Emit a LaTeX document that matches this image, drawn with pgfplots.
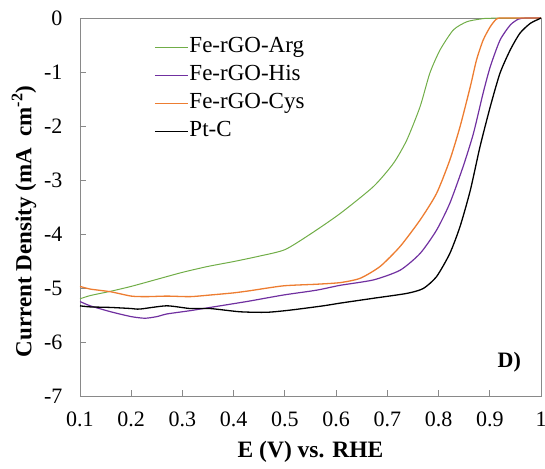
\documentclass[border=0pt]{standalone}
\usepackage{fontspec}
\setmainfont{Liberation Serif}
\usepackage{pgfplots}
\pgfplotsset{compat=1.18}
\definecolor{cgreen}{HTML}{70AD47}
\definecolor{cpurple}{HTML}{7030A0}
\definecolor{corange}{HTML}{ED7D31}
\definecolor{axgray}{HTML}{898989}
\begin{document}
\begin{tikzpicture}
\useasboundingbox (-80pt,-72pt) rectangle (465pt,396pt);
\begin{axis}[
  at={(0pt,0pt)}, anchor=south west,
  scale only axis, width=461pt, height=378pt,
  xmin=0.1, xmax=1, ymin=-7, ymax=0,
  xtick={0.1,0.2,0.3,0.4,0.5,0.6,0.7,0.8,0.9,1},
  xticklabels={0.1,0.2,0.3,0.4,0.5,0.6,0.7,0.8,0.9,1},
  ytick={-7,-6,-5,-4,-3,-2,-1,0},
  yticklabels={-7,-6,-5,-4,-3,-2,-1,0},
  /pgf/number format/assume math mode=true,
  tick align=inside, major tick length=6pt,
  xtick pos=bottom, ytick pos=left,
  axis line style={color=axgray, line width=0.9pt},
  every tick/.style={color=axgray, line width=0.9pt},
  ticklabel style={font=\fontsize{22}{26}\selectfont, text=black},
  xticklabel style={yshift=-12pt},
  yticklabel style={xshift=-14pt},
  xlabel={E (V) vs. RHE},
  ylabel={Current Density (mA\ \ cm\textsuperscript{-2})},
  xlabel style={font=\bfseries\fontsize{23.5}{27}\selectfont, at={(axis description cs:0.5,-0.164)}, anchor=base},
  ylabel style={font=\bfseries\fontsize{23}{27}\selectfont, at={(axis description cs:-0.1215,0.462)}, anchor=center},
  legend style={draw=none, fill=none, at={(rel axis cs:0.1605,0.952)}, anchor=north west,
    inner sep=0pt, row sep=6pt, font=\fontsize{23}{27}\selectfont,
    nodes={inner sep=1pt, text height=15pt, text depth=5pt}},
  legend cell align=left,
  legend image code/.code={\draw[#1, line width=1.3pt] (0pt,0pt) -- (33pt,0pt);},
]
\addplot[cgreen, line width=1.0pt, smooth, tension=0.4] coordinates {
(0.10,-5.20) (0.12,-5.14) (0.16,-5.06) (0.20,-4.97) (0.25,-4.84) (0.30,-4.71)
(0.35,-4.60) (0.40,-4.51) (0.45,-4.41) (0.50,-4.29) (0.55,-4.00) (0.608,-3.62)
(0.673,-3.12) (0.712,-2.69) (0.738,-2.26) (0.764,-1.64) (0.783,-1.02)
(0.803,-0.59) (0.829,-0.22) (0.855,-0.07) (0.881,-0.02) (0.90,-0.005) (1.00,0)
};
\addlegendentry{Fe-rGO-Arg}
\addplot[cpurple, line width=1.2pt, smooth, tension=0.4] coordinates {
(0.10,-5.25) (0.12,-5.33) (0.16,-5.44) (0.20,-5.53) (0.227,-5.56) (0.25,-5.53)
(0.27,-5.48) (0.315,-5.42) (0.354,-5.36) (0.40,-5.29) (0.432,-5.24) (0.497,-5.13)
(0.562,-5.04) (0.608,-4.95) (0.673,-4.85) (0.725,-4.67) (0.764,-4.36)
(0.796,-3.93) (0.822,-3.43) (0.848,-2.75) (0.868,-2.14) (0.887,-1.39)
(0.901,-0.90) (0.920,-0.41) (0.940,-0.13) (0.956,-0.02) (0.97,0) (1.00,0)
};
\addlegendentry{Fe-rGO-His}
\addplot[corange, line width=1.3pt, smooth, tension=0.4] coordinates {
(0.10,-4.97) (0.12,-5.02) (0.16,-5.07) (0.20,-5.15) (0.23,-5.16) (0.27,-5.15)
(0.315,-5.16) (0.354,-5.13) (0.40,-5.09) (0.432,-5.05) (0.497,-4.96)
(0.562,-4.93) (0.608,-4.90) (0.647,-4.82) (0.686,-4.60) (0.725,-4.23)
(0.764,-3.74) (0.796,-3.25) (0.822,-2.63) (0.842,-2.01) (0.862,-1.27)
(0.874,-0.78) (0.887,-0.41) (0.901,-0.16) (0.913,-0.02) (0.925,0) (1.00,0)
};
\addlegendentry{Fe-rGO-Cys}
\addplot[black, line width=1.3pt, smooth, tension=0.4] coordinates {
(0.10,-5.33) (0.12,-5.35) (0.16,-5.36) (0.20,-5.38) (0.217,-5.39) (0.269,-5.33)
(0.315,-5.38) (0.354,-5.38) (0.412,-5.44) (0.464,-5.45) (0.51,-5.41)
(0.575,-5.33) (0.608,-5.28) (0.673,-5.19) (0.738,-5.10) (0.770,-5.01)
(0.796,-4.79) (0.822,-4.36) (0.842,-3.86) (0.862,-3.19) (0.881,-2.38)
(0.901,-1.64) (0.920,-1.02) (0.940,-0.59) (0.959,-0.28) (0.979,-0.10)
(0.998,-0.01) (1.00,0)
};
\addlegendentry{Pt-C}
\node[font=\bfseries\fontsize{22}{26}\selectfont] at (axis cs:0.938,-6.37) {D)};
\end{axis}
\end{tikzpicture}
\end{document}
